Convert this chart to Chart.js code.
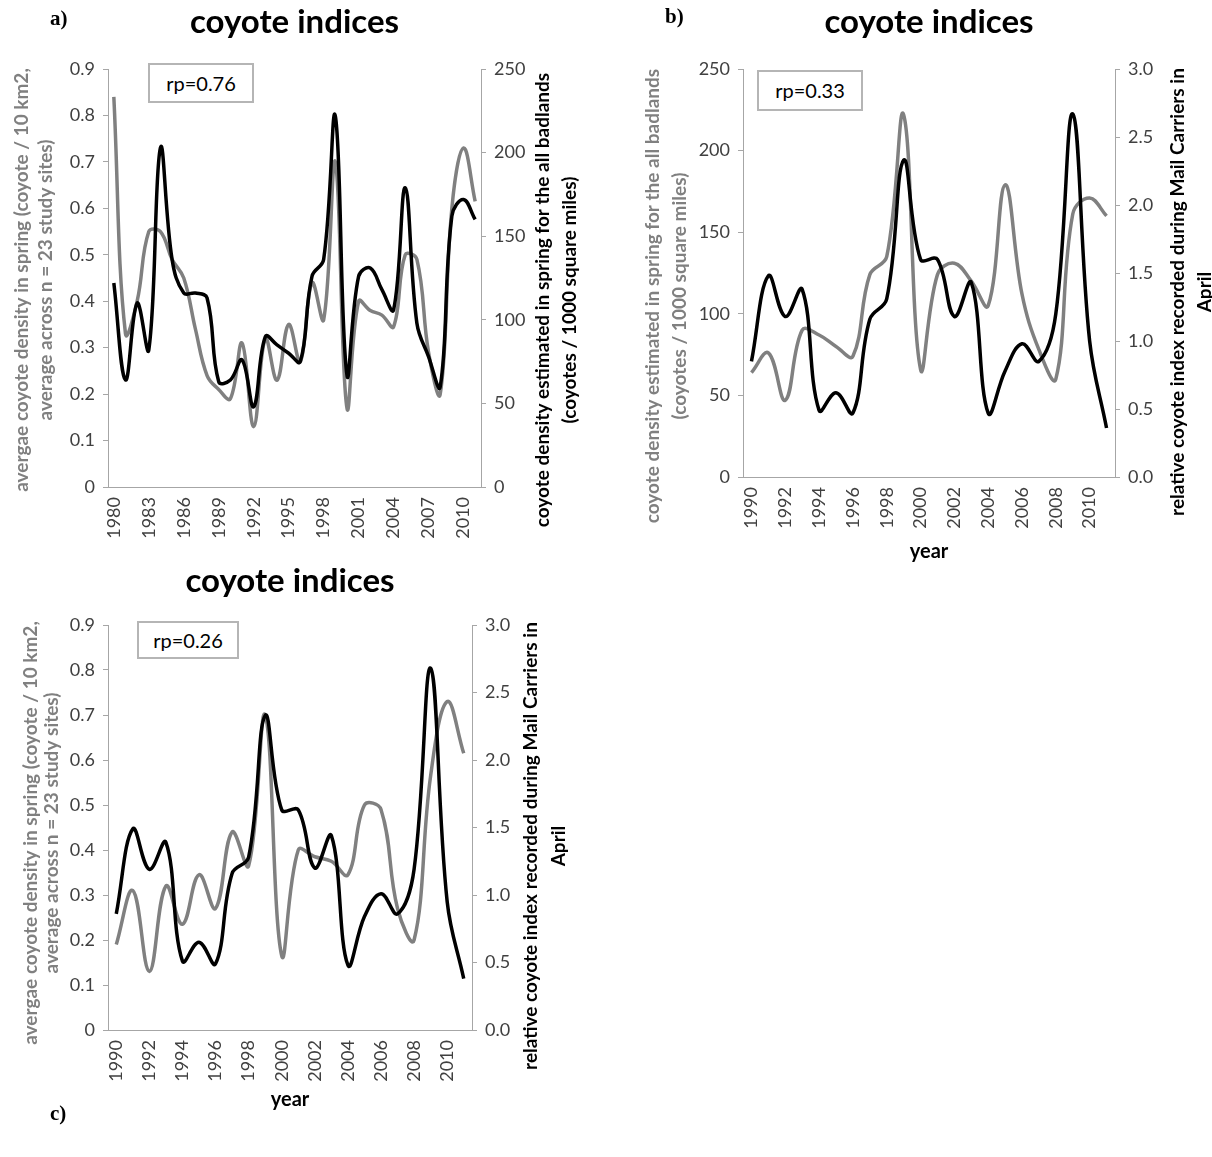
<!DOCTYPE html>
<html>
<head>
<meta charset="utf-8">
<title>coyote indices</title>
<script src="https://cdn.jsdelivr.net/npm/chart.js@4.4.1/dist/chart.umd.min.js"></script>
<style>
  body { margin: 0; background: #fff; width: 1212px; height: 1157px; position: relative; overflow: hidden; font-family: Lato, sans-serif; }
  canvas { position: absolute; }
  .tag { position: absolute; font-family: 'Liberation Serif', serif; font-weight: bold; font-size: 21px; color: #000; }
  .rp { position: absolute; box-sizing: border-box; border: 2px solid #b5b5b5; font-size: 20px; text-align: center; color: #000; background: #fff; }
</style>
</head>
<body>
<canvas id="chartA" width="589" height="550" style="left:0;top:0"></canvas>
<canvas id="chartB" width="592" height="575" style="left:620px;top:0"></canvas>
<canvas id="chartC" width="580" height="564" style="left:0;top:556px"></canvas>

<div class="tag" style="left:50px;top:6px">a)</div>
<div class="tag" style="left:665px;top:4px">b)</div>
<div class="tag" style="left:50px;top:1101px">c)</div>

<div class="rp" style="left:148px;top:63px;width:106px;height:40px;line-height:36px">rp=0.76</div>
<div class="rp" style="left:757px;top:70px;width:106px;height:41px;line-height:37px">rp=0.33</div>
<div class="rp" style="left:137px;top:621px;width:102px;height:38px;line-height:34px">rp=0.26</div>

<script>
// panel a: 1980-2011
const yearsA = ['1980', '1981', '1982', '1983', '1984', '1985', '1986', '1987', '1988', '1989',
  '1990', '1991', '1992', '1993', '1994', '1995', '1996', '1997', '1998', '1999',
  '2000', '2001', '2002', '2003', '2004', '2005', '2006', '2007', '2008', '2009', '2010', '2011'];
// average coyote density in spring (coyote / 10 km2), grey, left axis
const densityA = [0.84, 0.33, 0.40, 0.55, 0.55, 0.49, 0.45, 0.34, 0.24, 0.21,
  0.19, 0.31, 0.13, 0.32, 0.23, 0.35, 0.27, 0.44, 0.36, 0.70,
  0.17, 0.40, 0.38, 0.37, 0.345, 0.50, 0.49, 0.29, 0.20, 0.60, 0.73, 0.615];
// coyote density for all badlands (coyotes / 1000 sq mi), black, right axis
const badlandsA = [122, 64, 110, 82, 203, 136, 116, 116, 113, 63,
  64, 76, 48, 90, 85, 80, 75, 126, 136, 222,
  67, 126, 131, 118, 106, 179, 98, 78, 60, 162, 172, 160];

// panels b and c: 1990-2011
const yearsBC = ['1990', '1991', '1992', '1993', '1994', '1995', '1996', '1997', '1998', '1999',
  '2000', '2001', '2002', '2003', '2004', '2005', '2006', '2007', '2008', '2009', '2010', '2011'];
const badlandsB = [64, 76, 47, 90, 87, 80, 74, 124, 135, 222,
  66, 124, 131, 120, 105, 179, 112, 78, 60, 161, 171, 160];
const mailB = [0.85, 1.48, 1.18, 1.38, 0.49, 0.62, 0.47, 1.16, 1.31, 2.33,
  1.60, 1.60, 1.18, 1.43, 0.47, 0.78, 0.98, 0.85, 1.20, 2.67, 1.00, 0.36];
const densityC = [0.19, 0.31, 0.13, 0.32, 0.235, 0.345, 0.27, 0.44, 0.365, 0.70,
  0.165, 0.40, 0.385, 0.375, 0.345, 0.50, 0.49, 0.27, 0.20, 0.565, 0.73, 0.615];
const mailC = [0.86, 1.49, 1.19, 1.39, 0.51, 0.65, 0.49, 1.16, 1.28, 2.33,
  1.63, 1.63, 1.20, 1.44, 0.48, 0.84, 1.01, 0.86, 1.19, 2.68, 0.95, 0.38];

const densityTitle = ['avergae coyote density in spring (coyote / 10 km2,', 'average across n = 23 study sites)'];
const badlandsTitle = ['coyote density estimated in spring for the all badlands', '(coyotes / 1000 square miles)'];
const mailTitle = ['relative coyote index recorded during Mail Carriers in', 'April'];

Chart.defaults.font.family = 'Lato';

const GREY = '#808080';
const AXIS = '#a6a6a6';
const TICK = '#404040';

// axis titles read bottom-to-top on both sides, like the original
const sideTitles = {
  id: 'sideTitles',
  afterDraw(chart, args, opts) {
    const ctx = chart.ctx;
    (opts.items || []).forEach(item => {
      ctx.save();
      ctx.font = 'bold 19px Lato';
      ctx.fillStyle = item.color;
      ctx.textAlign = 'center';
      ctx.textBaseline = 'middle';
      item.lines.forEach((line, i) => {
        ctx.save();
        ctx.translate(item.x + i * item.gap, item.cy);
        ctx.rotate(-Math.PI / 2);
        ctx.fillText(line, 0, 0);
        ctx.restore();
      });
      ctx.restore();
    });
  }
};

function yAxis(pos, max, step, width, fmt) {
  return {
    position: pos,
    min: 0,
    max: max,
    ticks: { stepSize: step, color: TICK, font: { size: 18 }, padding: 8, callback: fmt },
    grid: { drawOnChartArea: false, color: AXIS, tickLength: 5 },
    border: { color: AXIS },
    afterFit: s => { s.width = width; }
  };
}

function xAxis(every, height, withTitle, titlePad) {
  return {
    type: 'category',
    offset: true,
    grid: { display: false, drawTicks: false },
    border: { color: AXIS },
    ticks: {
      autoSkip: false,
      minRotation: 90,
      maxRotation: 90,
      padding: 10,
      color: TICK,
      font: { size: 18 },
      callback: function (v, i) { return i % every === 0 ? this.getLabelForValue(v) : ''; }
    },
    title: {
      display: withTitle,
      text: 'year',
      color: '#000',
      font: { size: 20, weight: 'bold' },
      padding: { top: 0, bottom: titlePad }
    },
    afterFit: s => { s.height = height; }
  };
}

function line(data, axis, colour) {
  return {
    data: data,
    yAxisID: axis,
    borderColor: colour,
    borderWidth: 3.5,
    pointRadius: 0,
    tension: 0.4,
    fill: false
  };
}

function makeChart(id, labels, datasets, scales, titlePad, sideItems, layoutPad) {
  return new Chart(document.getElementById(id), {
    type: 'line',
    data: { labels: labels, datasets: datasets },
    options: {
      responsive: false,
      animation: false,
      devicePixelRatio: 1,
      layout: { padding: layoutPad || 0 },
      scales: scales,
      plugins: {
        legend: { display: false },
        tooltip: { enabled: false },
        title: {
          display: true,
          text: 'coyote indices',
          color: '#000',
          font: { size: 33, weight: 'bold' },
          padding: titlePad
        },
        sideTitles: { items: sideItems }
      }
    },
    plugins: [sideTitles]
  });
}

const plain = v => v;
const oneDec = v => v.toFixed(1);

// a)
makeChart('chartA', yearsA,
  [line(badlandsA, 'yR', '#000'), line(densityA, 'yL', GREY)],
  {
    x: xAxis(3, 63, false, 0),
    yL: yAxis('left', 0.9, 0.1, 108, plain),
    yR: yAxis('right', 250, 50, 108, plain)
  },
  { top: 2.5, bottom: 26.9 },
  [
    { lines: densityTitle, color: GREY, x: 22, gap: 24, cy: 280 },
    { lines: badlandsTitle, color: '#000', x: 543, gap: 27, cy: 300 }
  ]);

// b)
makeChart('chartB', yearsBC,
  [line(mailB, 'yR', '#000'), line(badlandsB, 'yL', GREY)],
  {
    x: xAxis(2, 98, true, 11),
    yL: yAxis('left', 250, 50, 97, plain),
    yR: yAxis('right', 3, 0.5, 97, oneDec)
  },
  { top: 2.5, bottom: 26.9 },
  [
    { lines: badlandsTitle, color: GREY, x: 33, gap: 27, cy: 296 },
    { lines: mailTitle, color: '#000', x: 558, gap: 27, cy: 292 }
  ],
  { left: 26 });

// c)
makeChart('chartC', yearsBC,
  [line(mailC, 'yR', '#000'), line(densityC, 'yL', GREY)],
  {
    x: xAxis(2, 90, true, 8),
    yL: yAxis('left', 0.9, 0.1, 108, plain),
    yR: yAxis('right', 3, 0.5, 108, oneDec)
  },
  { top: 5.2, bottom: 24.2 },
  [
    { lines: densityTitle, color: GREY, x: 31, gap: 21, cy: 277 },
    { lines: mailTitle, color: '#000', x: 531, gap: 28, cy: 290 }
  ]);
</script>
</body>
</html>
